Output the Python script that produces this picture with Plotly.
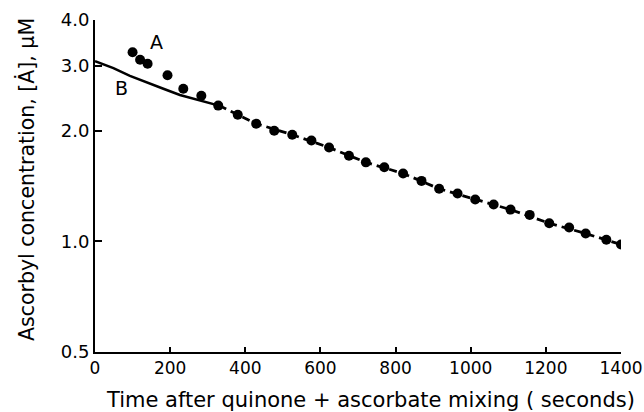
import math
import plotly.graph_objects as go

# Curve A: measured ascorbyl concentration (dots)
time_a = [100, 120, 140, 193, 235, 283, 328, 380, 429, 477, 525, 576, 623, 676, 721,
          770, 820, 869, 916, 965, 1012, 1061, 1106, 1157, 1209, 1262, 1306, 1361, 1400]
conc_a = [3.27, 3.12, 3.04, 2.83, 2.60, 2.49, 2.34, 2.21, 2.09, 2.00, 1.95, 1.88, 1.80,
          1.71, 1.64, 1.59, 1.53, 1.46, 1.39, 1.35, 1.30, 1.26, 1.22, 1.18, 1.12, 1.09,
          1.05, 1.01, 0.98]

# Curve B: simulated curve (solid part, then dashed continuation)
time_b_solid = [0, 49, 93, 138, 182, 226, 271, 311, 330]
conc_b_solid = [3.09, 2.96, 2.82, 2.70, 2.60, 2.50, 2.43, 2.36, 2.34]
time_b_dash = [330, 429, 525, 623, 721, 820, 916, 1012, 1106, 1209, 1306, 1400]
conc_b_dash = [2.34, 2.09, 1.95, 1.80, 1.64, 1.53, 1.39, 1.30, 1.22, 1.12, 1.05, 0.98]

x_ticks = [0, 200, 400, 600, 800, 1000, 1200, 1400]
y_ticks = [0.5, 1.0, 2.0, 3.0, 4.0]
y_tick_text = ["0.5", "1.0", "2.0", "3.0", "4.0"]

# Curve labels (time, concentration)
label_a = (164, 3.49)
label_b = (71, 2.61)

FONT = "DejaVu Sans"

fig = go.Figure()
fig.add_trace(go.Scatter(x=time_b_solid, y=conc_b_solid, mode="lines",
                         line=dict(color="black", width=2.5), showlegend=False))
fig.add_trace(go.Scatter(x=time_b_dash, y=conc_b_dash, mode="lines",
                         line=dict(color="black", width=2.8, dash="8px,5px"), showlegend=False))
fig.add_trace(go.Scatter(x=time_a, y=conc_a, mode="markers",
                         marker=dict(color="black", size=10), showlegend=False))

fig.add_annotation(x=label_a[0], y=math.log10(label_a[1]), text="A", showarrow=False,
                   xref="x", yref="y", font=dict(family=FONT, size=19, color="black"))
fig.add_annotation(x=label_b[0], y=math.log10(label_b[1]), text="B", showarrow=False,
                   xref="x", yref="y", font=dict(family=FONT, size=19, color="black"))

fig.add_annotation(x=0.5, y=0, xref="paper", yref="paper", xanchor="center", yanchor="middle",
                   yshift=-48, xshift=12,
                   text="Time after quinone + ascorbate mixing ( seconds)", showarrow=False,
                   font=dict(family=FONT, size=21, color="black"))
fig.add_annotation(x=0, y=0.5, xref="paper", yref="paper", xanchor="center", yanchor="middle",
                   xshift=-69, yshift=6, textangle=-90,
                   text="Ascorbyl concentration, [Ȧ], μM", showarrow=False,
                   font=dict(family=FONT, size=20.5, color="black"))

fig.update_xaxes(range=[0, 1400], tickvals=x_ticks, ticks="inside", ticklen=5,
                 tickwidth=1.5, tickcolor="black", showline=True, linecolor="black",
                 linewidth=2, showgrid=False, zeroline=False, mirror=False, automargin=False,
                 tickfont=dict(family=FONT, size=17, color="black"))
fig.update_yaxes(type="log", range=[-0.30103, 0.60206], tickvals=y_ticks, ticktext=y_tick_text,
                 ticks="inside", ticklen=7, tickwidth=1.5, tickcolor="black",
                 showline=True, linecolor="black", linewidth=2, showgrid=False,
                 zeroline=False, mirror=False, automargin=False,
                 tickfont=dict(family=FONT, size=18, color="black"))

fig.update_layout(width=644, height=412, margin=dict(l=95, r=23, t=20, b=60),
                  plot_bgcolor="white", paper_bgcolor="white", showlegend=False)

fig.write_html("out.html", config={"displayModeBar": False},
               post_script="document.body.style.margin='0';"
                           "document.body.style.overflow='hidden';")
